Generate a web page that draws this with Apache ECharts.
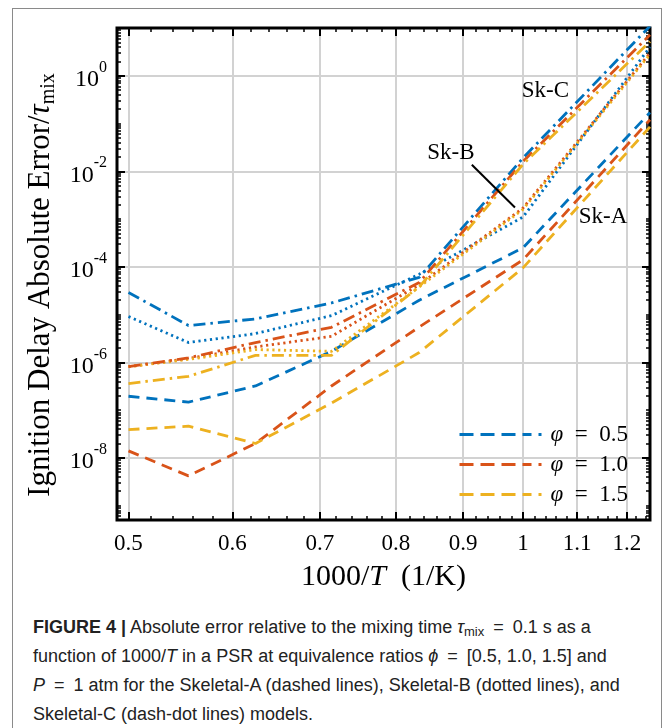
<!DOCTYPE html>
<html>
<head>
<meta charset="utf-8">
<script src="https://cdn.jsdelivr.net/npm/echarts@6/dist/echarts.min.js"></script>
<style>
html,body{margin:0;padding:0;background:#fff;width:668px;height:728px;overflow:hidden;}
#frame{position:absolute;left:12px;top:8px;width:650px;height:760px;border:1px solid #8a8a8a;box-sizing:border-box;}
#chart{position:absolute;left:0;top:0;width:668px;height:600px;}
#caption{position:absolute;left:33px;top:613px;width:630px;font-family:"Liberation Sans Narrow","Liberation Sans",Arial,sans-serif;font-size:18px;line-height:29px;color:#222;white-space:nowrap;}
#caption sub{font-size:13px;vertical-align:-3px;line-height:0;}
</style>
</head>
<body>
<div id="frame"></div>
<div id="chart"></div>
<div id="caption"><b>FIGURE 4 |</b> Absolute error relative to the mixing time <i>τ</i><sub>mix</sub>&ensp;=&ensp;0.1 s as a<br>function of 1000/<i>T</i> in a PSR at equivalence ratios <i>ϕ</i>&ensp;=&ensp;[0.5, 1.0, 1.5] and<br><i>P</i>&ensp;=&ensp;1 atm for the Skeletal-A (dashed lines), Skeletal-B (dotted lines), and<br>Skeletal-C (dash-dot lines) models.</div>
<script>
// ---------------- data ----------------
const temperatures = [2000, 1800, 1600, 1400, 1200, 1000, 800]; // K, x = 1000/T
// Skeletal-A (dashed)
const skA_phi05 = [1.95e-7, 1.47e-7, 3.2e-7, 1.7e-6, 2.0e-5, 2.5e-4, 0.17];
const skA_phi10 = [1.4e-8, 4.2e-9, 2.0e-8, 3.2e-7, 5.5e-6, 1.4e-4, 0.12];
const skA_phi15 = [3.9e-8, 4.6e-8, 2.0e-8, 1.4e-7, 1.6e-6, 9.5e-5, 0.085];
// Skeletal-B (dotted)
const skB_phi05 = [9.1e-6, 2.6e-6, 4.0e-6, 9.5e-6, 7.0e-5, 1.1e-3, 4.0];
const skB_phi10 = [8.1e-7, 1.2e-6, 2.1e-6, 3.5e-6, 4.2e-5, 1.7e-3, 3.0];
const skB_phi15 = [8.1e-7, 1.15e-6, 1.85e-6, 1.7e-6, 3.8e-5, 1.6e-3, 2.8];
// Skeletal-C (dash-dot)
const skC_phi05 = [2.9e-5, 5.9e-6, 8.1e-6, 1.75e-5, 6.0e-5, 1.9e-2, 11];
const skC_phi10 = [8.1e-7, 1.24e-6, 2.6e-6, 5.4e-6, 4.7e-5, 1.6e-2, 7.2];
const skC_phi15 = [3.6e-7, 5.1e-7, 1.4e-6, 1.4e-6, 3.8e-5, 1.4e-2, 5.2];

const phiNames = ['φ = 0.5', 'φ = 1.0', 'φ = 1.5'];
const xTickLabels = [0.5, 0.6, 0.7, 0.8, 0.9, 1, 1.1, 1.2];
const yTickExponents = [-8, -6, -4, -2, 0];
const xRange = [0.49, 1.25];
const yRange = [5e-10, 10];

// annotations (data units)
const annotationTexts = ['Sk-C', 'Sk-B', 'Sk-A'];
const annotationX = [1.040, 0.881, 1.151];
const annotationY = [0.485, 0.0245, 1.12e-3];
const arrowFrom = [0.914, 0.01374];
const arrowTo = [0.986, 1.74e-3];

// ---------------- styling ----------------
const colors = ['#0072BD', '#D95319', '#EDB120'];
const SERIF = '"Liberation Serif","Times New Roman",serif';
const L = Math.log10;
const lx = xRange.map(L), ly = yRange.map(L);

const xMinor = [];
for (let v = 50; v <= 124; v += 2) xMinor.push(L(v / 100));
const yMinor = [];
for (let n = -10; n <= 1; n++) for (let k = 1; k <= 9; k++) {
  const v = n + L(k);
  if (v >= ly[0] && v <= ly[1]) yMinor.push(v);
}

const models = [
  {sets: [skA_phi05, skA_phi10, skA_phi15], dash: [11, 7]},
  {sets: [skB_phi05, skB_phi10, skB_phi15], dash: [2.2, 3.6]},
  {sets: [skC_phi05, skC_phi10, skC_phi15], dash: [12, 5, 2.5, 5]}
];

const series = [];
models.forEach(m => {
  m.sets.forEach((vals, p) => {
    series.push({
      type: 'line', name: phiNames[p], symbol: 'none', showSymbol: false,
      clip: true, silent: true,
      lineStyle: {color: colors[p], width: 2.8, type: m.dash, cap: 'butt'},
      itemStyle: {color: colors[p]},
      data: temperatures.map((T, i) => [L(1000 / T), L(vals[i])])
    });
  });
});

series.push({
  type: 'line', name: 'annot', data: [], silent: true,
  markLine: {
    silent: true, animation: false, symbol: ['none', 'arrow'], symbolSize: [0, 13],
    lineStyle: {color: '#000', width: 2, type: 'solid'},
    label: {show: false},
    data: [[{coord: [L(arrowFrom[0]), L(arrowFrom[1])]}, {coord: [L(arrowTo[0]), L(arrowTo[1])]}]]
  },
  markPoint: {
    silent: true, animation: false, symbol: 'rect', symbolSize: 1,
    itemStyle: {color: 'rgba(0,0,0,0)'},
    label: {show: true, position: 'inside', color: '#000', fontSize: 23, fontFamily: SERIF,
      formatter: p => p.name},
    data: annotationTexts.map((t, i) => ({name: t, coord: [L(annotationX[i]), L(annotationY[i])]}))
  }
});

function minorAxis(pos, vals, range) {
  return {
    type: 'value', position: pos, min: range[0], max: range[1],
    axisLine: {show: false, onZero: false}, splitLine: {show: false}, axisLabel: {show: false},
    axisTick: {show: true, inside: true, length: 4, customValues: vals, lineStyle: {color: '#000', width: 1.5}}
  };
}
function majorAxis(pos, vals, range) {
  return {
    type: 'value', position: pos, min: range[0], max: range[1],
    axisLine: {show: false, onZero: false}, splitLine: {show: false}, axisLabel: {show: false},
    axisTick: {show: true, inside: true, length: 8, customValues: vals, lineStyle: {color: '#000', width: 2}}
  };
}

const xMajorVals = xTickLabels.map(L);

const xMain = majorAxis('bottom', xMajorVals, lx);
xMain.axisLabel = {
  show: true, customValues: xMajorVals, margin: 12, color: '#000', fontSize: 23, fontFamily: SERIF,
  formatter: v => String(Number(Math.pow(10, v).toFixed(1)))
};
xMain.splitLine = {show: true, lineStyle: {color: '#d2d2d2', width: 2}};
xMain.name = '1000/{i|T}\u2002(1/K)';
xMain.nameLocation = 'middle';
xMain.nameGap = 42;
xMain.nameTextStyle = {color: '#000', fontSize: 30, fontFamily: SERIF,
  rich: {i: {fontStyle: 'italic', fontSize: 30, fontFamily: SERIF, color: '#000'}}};

const yMain = majorAxis('left', yTickExponents, ly);
yMain.axisLabel = {
  show: true, customValues: yTickExponents, margin: 10, color: '#000',
  formatter: v => '{b|10}{s|' + Math.round(v) + '}',
  rich: {
    b: {fontSize: 24, fontFamily: SERIF, color: '#000', lineHeight: 32, verticalAlign: 'bottom'},
    s: {fontSize: 16, fontFamily: SERIF, color: '#000', lineHeight: 32, verticalAlign: 'top'}
  }
};
yMain.splitLine = {show: true, lineStyle: {color: '#d2d2d2', width: 2}};
yMain.name = 'Ignition Delay Absolute Error/{t|τ}{s|mix}';
yMain.nameLocation = 'middle';
yMain.nameGap = 56;
yMain.nameRotate = 90;
yMain.nameTextStyle = {color: '#000', fontSize: 31, fontFamily: SERIF, padding: [0, 22, 0, 0],
  rich: {
    t: {fontStyle: 'italic', fontSize: 31, fontFamily: SERIF, color: '#000', lineHeight: 36, verticalAlign: 'middle'},
    s: {fontSize: 20, fontFamily: SERIF, color: '#000', lineHeight: 36, verticalAlign: 'bottom'}
  }};

const option = {
  animation: false,
  backgroundColor: 'rgba(0,0,0,0)',
  grid: {left: 117, right: 18, top: 28, bottom: 80, show: true, borderColor: '#000', borderWidth: 3, backgroundColor: '#fff'},
  xAxis: [xMain, minorAxis('bottom', xMinor, lx), majorAxis('top', xMajorVals, lx), minorAxis('top', xMinor, lx)],
  yAxis: [yMain, minorAxis('left', yMinor, ly), majorAxis('right', yTickExponents, ly), minorAxis('right', yMinor, ly)],
  legend: {
    data: phiNames, orient: 'vertical', left: 453, top: 418, itemWidth: 86, itemHeight: 14, itemGap: 7,
    itemStyle: {opacity: 0, borderWidth: 0},
    lineStyle: {width: 3, type: [14, 7, 14, 7, 14, 7, 9, 7, 3, 30]},
    formatter: n => n.replace('φ', '{i|φ}').replace(/ = /, '\u2002=\u2002'),
    textStyle: {color: '#000', fontSize: 23, fontFamily: SERIF,
      rich: {i: {fontStyle: 'italic', fontSize: 23, fontFamily: SERIF, color: '#000'}}},
    selectedMode: false
  },
  series: series
};

const chart = echarts.init(document.getElementById('chart'), null, {renderer: 'canvas'});
chart.setOption(option);
</script>
</body>
</html>
